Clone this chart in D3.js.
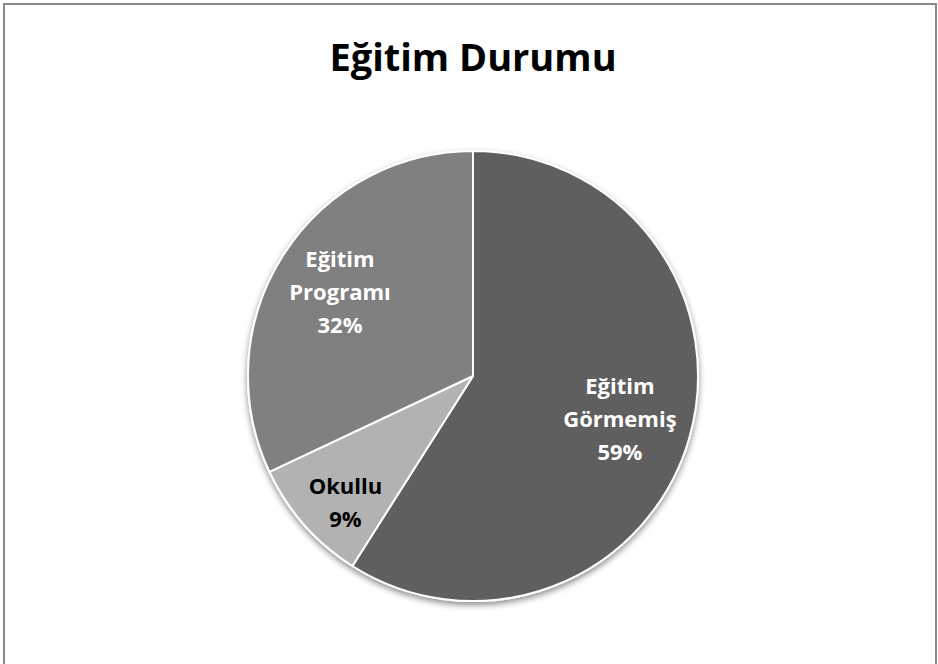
<!DOCTYPE html>
<html><head><meta charset="utf-8">
<script src="https://cdn.jsdelivr.net/npm/d3@7"></script>
<style>body{margin:0;background:#fff}svg{display:block}</style>
</head><body>
<svg id="c" width="938" height="664"></svg>
<script>
const title = "Eğitim Durumu";
const categories = ["Eğitim Görmemiş", "Okullu", "Eğitim Programı"];
const labelLines = [["Eğitim", "Görmemiş"], ["Okullu"], ["Eğitim", "Programı"]];
const values = [59, 9, 32];
const colors = ["#5f5f5f", "#b2b2b2", "#808080"];
const labelColors = ["#ffffff", "#000000", "#ffffff"];

const svg = d3.select("#c");
const W = 938, H = 664;
const cx = 473, cy = 376, R = 225;

svg.append("rect").attr("x", 4).attr("y", 4).attr("width", 932).attr("height", 720)
  .attr("fill", "#fff").attr("stroke", "#898989").attr("stroke-width", 2);

const defs = svg.append("defs");
const f = defs.append("filter").attr("id", "sh").attr("x", "-20%").attr("y", "-20%").attr("width", "140%").attr("height", "140%");
f.append("feDropShadow").attr("dx", 0).attr("dy", 3).attr("stdDeviation", 3)
  .attr("flood-color", "#000").attr("flood-opacity", 0.45);

svg.append("text").attr("x", cx).attr("y", 71).attr("text-anchor", "middle")
  .attr("font-family", "'Open Sans', sans-serif").attr("font-weight", "bold")
  .attr("font-size", 38).attr("fill", "#000").text(title);

const total = d3.sum(values);
const pct = d3.format(".0%");
const pie = d3.pie().sort(null).value(d => d)(values);
const arc = d3.arc().innerRadius(0).outerRadius(R);

const g = svg.append("g").attr("transform", `translate(${cx},${cy})`);
g.append("g").attr("filter", "url(#sh)").selectAll("path").data(pie).join("path")
  .attr("d", arc).attr("fill", (d, i) => colors[i])
  .attr("stroke", "#fff").attr("stroke-width", 2).attr("stroke-linejoin", "round");

const labelFactor = [0.68, 0.8, 0.7];
const angleShift = [0, -0.06, 0];
const lh = 33;
pie.forEach((d, i) => {
  const la = d3.arc().innerRadius(R * labelFactor[i]).outerRadius(R * labelFactor[i]);
  const dd = {startAngle: d.startAngle + angleShift[i], endAngle: d.endAngle + angleShift[i]};
  const [x, y] = la.centroid(dd);
  const lines = labelLines[i].concat([pct(values[i] / total)]);
  const t = g.append("text").attr("text-anchor", "middle")
    .attr("font-family", "'Open Sans', sans-serif").attr("font-weight", "bold")
    .attr("font-size", 22).attr("fill", labelColors[i]);
  const y0 = y - (lines.length - 1) * lh / 2 + 8;
  lines.forEach((l, k) => t.append("tspan").attr("x", x).attr("y", y0 + k * lh).text(l));
});
</script>
</body></html>
